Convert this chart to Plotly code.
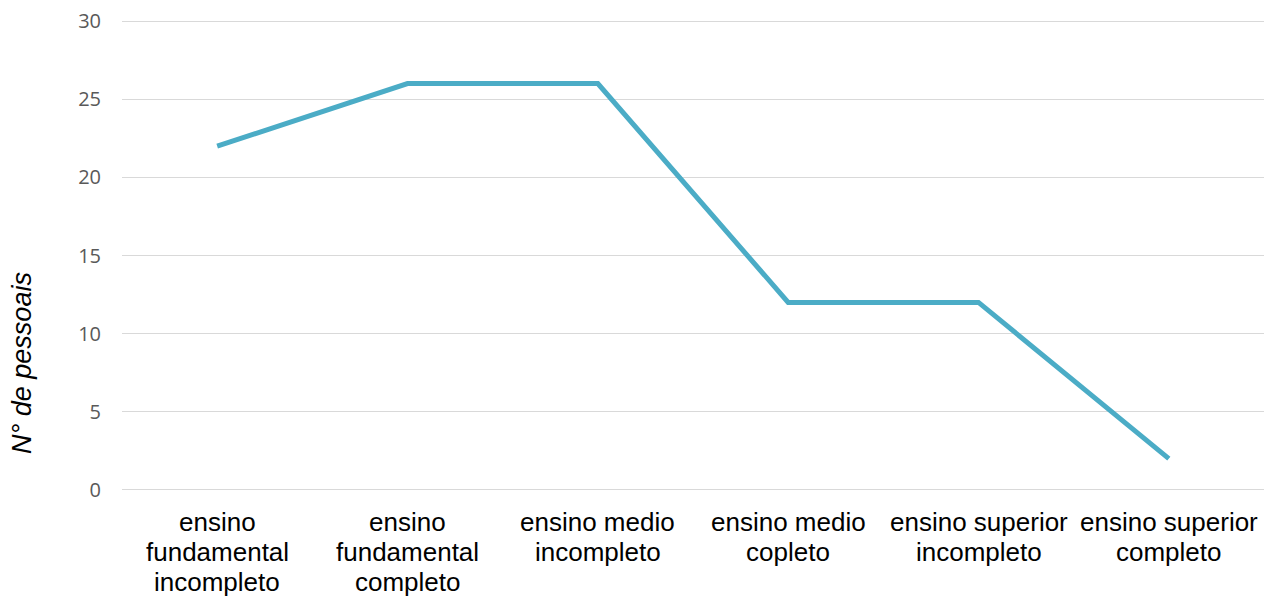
import plotly.graph_objects as go

# Education level categories (x) and number of people (y)
categorias = [
    "ensino<br>fundamental<br>incompleto",
    "ensino<br>fundamental<br>completo",
    "ensino medio<br>incompleto",
    "ensino medio<br>copleto",
    "ensino superior<br>incompleto",
    "ensino superior<br>completo",
]
pessoas = [22, 26, 26, 12, 12, 2]
y_ticks = [0, 5, 10, 15, 20, 25, 30]

W, H = 1276, 596
ML, MR, MT, MB = 122, 12, 20, 105
LABEL_FONT = dict(family="Liberation Sans, Arial, sans-serif", size=26, color="#000000")
LINE_GAP = 30       # px between category-label lines
FIRST_LINE = 31     # px from the plot bottom to the centre of the first label line

fig = go.Figure(
    go.Scatter(
        x=categorias,
        y=pessoas,
        mode="lines",
        line=dict(color="#4BACC6", width=5),
        hoverinfo="y",
    )
)

# Category labels, one annotation per text line so the line spacing stays compact
annotations = []
for cat in categorias:
    for i, linha in enumerate(cat.split("<br>")):
        annotations.append(
            dict(
                text=linha,
                x=cat,
                xref="x",
                y=0,
                yref="paper",
                xanchor="center",
                yanchor="middle",
                yshift=-(FIRST_LINE + i * LINE_GAP),
                showarrow=False,
                font=LABEL_FONT,
            )
        )

annotations.append(
    dict(
        text="N° de pessoais",
        xref="paper",
        yref="paper",
        x=(22 - ML) / (W - ML - MR),
        y=(H - MB - 363) / (H - MT - MB),
        xanchor="center",
        yanchor="middle",
        textangle=-90,
        showarrow=False,
        font=dict(family="Liberation Sans, Arial, sans-serif", size=27, color="#000000", style="italic"),
    )
)

fig.update_layout(
    width=W,
    height=H,
    margin=dict(l=ML, r=MR, t=MT, b=MB, autoexpand=False),
    paper_bgcolor="white",
    plot_bgcolor="white",
    showlegend=False,
    xaxis=dict(
        type="category",
        range=[-0.5, len(categorias) - 0.5],
        automargin=False,
        showgrid=False,
        showline=False,
        zeroline=False,
        ticks="",
        showticklabels=False,
    ),
    yaxis=dict(
        # tiny padding keeps the 0 and 30 gridlines inside the plot area
        range=[-0.07, 30.07],
        tickvals=y_ticks,
        automargin=False,
        showgrid=True,
        gridcolor="#D9D9D9",
        gridwidth=1.3,
        zeroline=False,
        showline=False,
        ticks="",
        tickfont=dict(family="Open Sans, sans-serif", size=20, color="#595959"),
        ticklabelstandoff=20,
    ),
    annotations=annotations,
)

fig.write_html("out.html")
